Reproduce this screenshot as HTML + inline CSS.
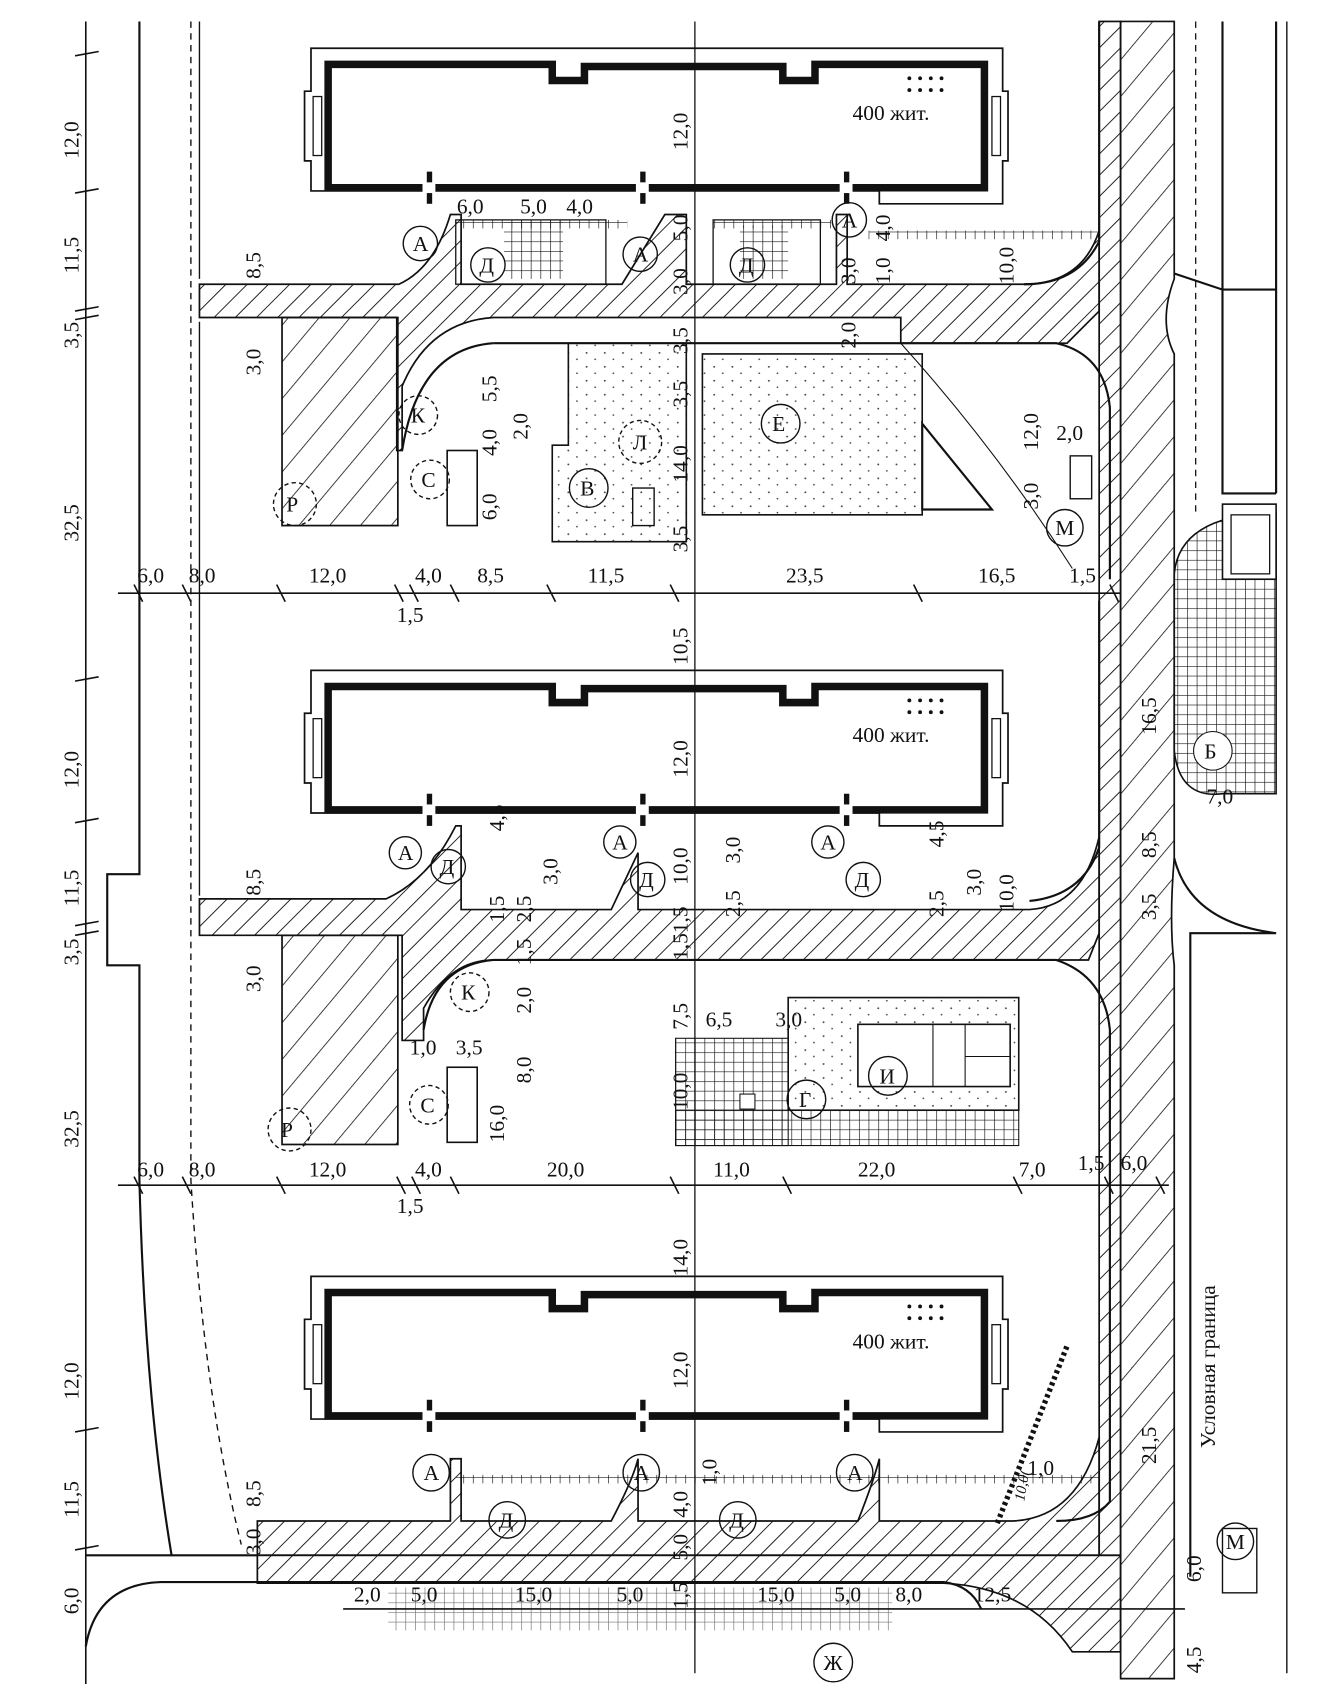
<!DOCTYPE html>
<html><head><meta charset="utf-8"><style>
html,body{margin:0;padding:0;background:#fff}
svg{display:block}
text{font-family:"Liberation Serif","DejaVu Serif",serif;font-size:20px;fill:#111}
</style></head><body>
<svg width="1319" height="1684" viewBox="0 0 1230 1570" preserveAspectRatio="none" xmlns="http://www.w3.org/2000/svg">
<defs>
<pattern id="h" patternUnits="userSpaceOnUse" width="14" height="14" patternTransform="rotate(45)"><line x1="0" y1="0" x2="0" y2="14" stroke="#111" stroke-width="1.7"/></pattern>
<pattern id="hw" patternUnits="userSpaceOnUse" width="22" height="22" patternTransform="rotate(40)"><line x1="0" y1="0" x2="0" y2="22" stroke="#111" stroke-width="1.5"/></pattern>
<pattern id="g" patternUnits="userSpaceOnUse" width="9" height="9"><path d="M0 0H9M0 0V9" stroke="#111" stroke-width="1.2" fill="none"/></pattern>
<pattern id="d" patternUnits="userSpaceOnUse" width="17" height="13"><circle cx="3" cy="4" r="0.9" fill="#444"/><circle cx="11" cy="10" r="0.8" fill="#444"/></pattern>
<g id="bld">
<path d="M290 45H935V85H940V150H935V190H820V178H290V150H284V85H290Z" fill="none" stroke="#111" stroke-width="1.6"/>
<path d="M306 60H515V75H545V62H730V75H760V60H918V175H306Z" fill="none" stroke="#111" stroke-width="7"/>
<rect x="292" y="90" width="8" height="55" fill="none" stroke="#111" stroke-width="1.2"/>
<rect x="925" y="90" width="8" height="55" fill="none" stroke="#111" stroke-width="1.2"/>
<g fill="#111"><rect x="398" y="160" width="5" height="30"/><rect x="597" y="160" width="5" height="30"/><rect x="787" y="160" width="5" height="30"/></g>
<g fill="#fff"><rect x="394" y="170" width="12" height="10"/><rect x="593" y="170" width="12" height="10"/><rect x="783" y="170" width="12" height="10"/></g>
<g fill="#111"><circle cx="848" cy="73" r="1.8"/><circle cx="858" cy="73" r="1.8"/><circle cx="868" cy="73" r="1.8"/><circle cx="878" cy="73" r="1.8"/><circle cx="848" cy="84" r="1.8"/><circle cx="858" cy="84" r="1.8"/><circle cx="868" cy="84" r="1.8"/><circle cx="878" cy="84" r="1.8"/></g>
<text x="795" y="112">400 жит.</text>
</g>
</defs>

<line x1="80" y1="20" x2="80" y2="1570" stroke="#111" stroke-width="1.5"/>
<g stroke="#111" stroke-width="1.5">
<path d="M70 52L92 48M70 180L92 176M70 290L92 286M70 298L92 294M70 635L92 631M70 767L92 763M70 863L92 859M70 872L92 868M70 1335L92 1331M70 1445L92 1441"/>
</g>
<g>
<text transform="translate(73,148) rotate(-90)">12,0</text>
<text transform="translate(73,255) rotate(-90)">11,5</text>
<text transform="translate(73,325) rotate(-90)">3,5</text>
<text transform="translate(73,505) rotate(-90)">32,5</text>
<text transform="translate(73,735) rotate(-90)">12,0</text>
<text transform="translate(73,845) rotate(-90)">11,5</text>
<text transform="translate(73,900) rotate(-90)">3,5</text>
<text transform="translate(73,1070) rotate(-90)">32,5</text>
<text transform="translate(73,1305) rotate(-90)">12,0</text>
<text transform="translate(73,1415) rotate(-90)">11,5</text>
<text transform="translate(73,1505) rotate(-90)">6,0</text>
</g>

<path d="M130 20V815H100V900H130V1100Q135 1300 160 1450" fill="none" stroke="#111" stroke-width="2"/>
<path d="M178 20V1100Q190 1300 225 1440" fill="none" stroke="#111" stroke-width="1.3" stroke-dasharray="6 5"/>
<line x1="186" y1="20" x2="186" y2="260" stroke="#111" stroke-width="1.3"/>
<line x1="186" y1="300" x2="186" y2="835" stroke="#111" stroke-width="1.3"/>
<line x1="80" y1="1450" x2="240" y2="1450" stroke="#111" stroke-width="2"/>
<path d="M80 1535Q90 1477 150 1475H880Q905 1478 915 1500" fill="none" stroke="#111" stroke-width="2"/>

<line x1="648" y1="20" x2="648" y2="1560" stroke="#111" stroke-width="1.2"/>

<use href="#bld"/>
<use href="#bld" transform="translate(0,580)"/>
<use href="#bld" transform="translate(0,1145)"/>

<g fill="url(#h)" stroke="#111" stroke-width="1.6">
<path d="M186 265H372Q405 250 420 200H430V265H580L620 200H640V265H780V200H790V265H960Q1010 262 1025 215V290L995 320H840V296H460Q400 300 375 360V420H370V296H186Z"/>
<path d="M186 838H360Q400 820 425 770H430V848H570L595 795V848H960Q1010 845 1025 780V870L1015 895H460Q420 895 395 940V970H375V872H186Z"/>
<path d="M240 1418H420V1360H430V1418H570Q590 1380 595 1360V1418H800Q815 1380 820 1360V1418H945Q1005 1415 1025 1340V1450H240Z"/>
<path d="M240 1450H1045V1540H1000Q960 1480 880 1476H240Z"/>
<rect x="1025" y="20" width="20" height="1430"/>
</g>
<g fill="url(#hw)" stroke="#111" stroke-width="1.6">
<rect x="263" y="296" width="108" height="194"/>
<rect x="263" y="872" width="108" height="195"/>
<path d="M1045 20H1095V260Q1080 300 1095 330V800Q1090 860 1095 900V1565H1045Z"/>
</g>
<g fill="none" stroke="#111" stroke-width="2">
<path d="M460 320H985Q1030 330 1035 380V540"/>
<path d="M460 320Q390 325 375 420"/>
<path d="M460 895H985Q1030 910 1035 960V1400Q1020 1418 985 1418"/>
<path d="M460 895Q405 900 395 960"/>
<path d="M955 265Q1005 265 1025 225V20"/>
<path d="M960 840Q1010 835 1025 790V560"/>
<path d="M1095 255Q1125 265 1140 270H1190"/>
<path d="M1095 800Q1110 860 1190 870H1110V1470"/>
<path d="M1140 20V460H1190M1190 20V460"/>
</g>
<line x1="1115" y1="20" x2="1115" y2="480" stroke="#111" stroke-width="1.2" stroke-dasharray="6 5"/>
<line x1="1095" y1="900" x2="1095" y2="1540" stroke="#111" stroke-width="1.2" stroke-dasharray="6 5"/>
<line x1="1200" y1="20" x2="1200" y2="1560" stroke="#111" stroke-width="1.3"/>
<text transform="translate(1133,1350) rotate(-90)">Условная граница</text>

<path d="M1095 535Q1100 480 1190 478V740H1140Q1100 745 1095 700Z" fill="url(#g)" stroke="#111" stroke-width="1.5"/>
<rect x="1140" y="470" width="50" height="70" fill="#fff" stroke="#111" stroke-width="1.5"/>
<rect x="1148" y="480" width="36" height="55" fill="none" stroke="#111" stroke-width="1.2"/>
<circle cx="1131" cy="700" r="18" fill="#fff" stroke="#111"/><text x="1123" y="707">Б</text>

<path d="M530 320H640V505H515V415H530Z" fill="url(#d)" stroke="#111" stroke-width="1.5"/>
<path d="M655 330H860V480H655Z" fill="url(#d)" stroke="#111" stroke-width="1.5"/>
<path d="M860 395L925 475H860Z" fill="#fff" stroke="#111" stroke-width="2"/>
<path d="M840 320Q930 420 1000 530" fill="none" stroke="#111"/>
<rect x="417" y="420" width="28" height="70" fill="none" stroke="#111" stroke-width="1.5"/>
<rect x="417" y="995" width="28" height="70" fill="none" stroke="#111" stroke-width="1.5"/>
<rect x="590" y="455" width="20" height="35" fill="none" stroke="#111" stroke-width="1.3"/>
<rect x="425" y="205" width="140" height="60" fill="none" stroke="#111" stroke-width="1.2"/>
<rect x="470" y="205" width="55" height="55" fill="url(#g)"/>
<rect x="665" y="205" width="100" height="60" fill="none" stroke="#111" stroke-width="1.2"/>
<rect x="690" y="210" width="45" height="50" fill="url(#g)"/>
<rect x="425" y="205" width="160" height="8" fill="url(#g)"/>
<rect x="665" y="205" width="110" height="8" fill="url(#g)"/>
<rect x="810" y="215" width="215" height="8" fill="url(#g)"/>
<rect x="630" y="968" width="105" height="100" fill="url(#g)" stroke="#111"/>
<rect x="630" y="1035" width="320" height="33" fill="url(#g)" stroke="#111"/>
<path d="M735 930H950V1035H735Z" fill="url(#d)" stroke="#111" stroke-width="1.5"/>
<rect x="800" y="955" width="142" height="58" fill="#fff" stroke="#111" stroke-width="1.5"/>
<path d="M870 955V1013M900 955V1013M900 985H942" stroke="#111" fill="none"/>
<rect x="690" y="1020" width="14" height="14" fill="#fff" stroke="#111"/>
<rect x="362" y="1480" width="470" height="40" fill="url(#g)" opacity="0.6"/>
<rect x="425" y="1375" width="600" height="8" fill="url(#g)"/>
<path d="M930 1420L995 1255" stroke="#111" stroke-width="5" stroke-dasharray="3 3"/>

<rect x="998" y="425" width="20" height="40" fill="none" stroke="#111" stroke-width="1.3"/>
<rect x="1140" y="1425" width="32" height="60" fill="none" stroke="#111" stroke-width="1.3"/>

<g stroke="#111" stroke-width="1.5">
<line x1="110" y1="553" x2="1045" y2="553"/>
<line x1="110" y1="1105" x2="1090" y2="1105"/>
<line x1="320" y1="1500" x2="1105" y2="1500" />
<path d="M125 545L133 561M170 545L178 561M258 545L266 561M368 545L376 561M382 545L390 561M420 545L428 561M510 545L518 561M625 545L633 561M852 545L860 561M1035 545L1043 561M125 1097L133 1113M170 1097L178 1113M258 1097L266 1113M370 1097L378 1113M384 1097L392 1113M420 1097L428 1113M625 1097L633 1113M730 1097L738 1113M945 1097L953 1113M1030 1097L1038 1113M1078 1097L1086 1113"/>
</g>
<text x="128" y="543">6,0</text><text x="176" y="543">8,0</text><text x="288" y="543">12,0</text><text x="387" y="543">4,0</text><text x="445" y="543">8,5</text><text x="548" y="543">11,5</text><text x="733" y="543">23,5</text><text x="912" y="543">16,5</text><text x="997" y="543">1,5</text><text x="370" y="580">1,5</text>
<text x="128" y="1097">6,0</text><text x="176" y="1097">8,0</text><text x="288" y="1097">12,0</text><text x="387" y="1097">4,0</text><text x="510" y="1097">20,0</text><text x="665" y="1097">11,0</text><text x="800" y="1097">22,0</text><text x="950" y="1097">7,0</text><text x="1005" y="1091">1,5</text><text x="1045" y="1091">6,0</text><text x="370" y="1131">1,5</text>
<text x="330" y="1493">2,0</text><text x="383" y="1493">5,0</text><text x="480" y="1493">15,0</text><text x="575" y="1493">5,0</text><text x="706" y="1493">15,0</text><text x="778" y="1493">5,0</text><text x="835" y="1493">8,0</text><text x="908" y="1493">12,5</text>

<g>
<text transform="translate(243,260) rotate(-90)">8,5</text>
<text transform="translate(243,350) rotate(-90)">3,0</text>
<text transform="translate(243,835) rotate(-90)">8,5</text>
<text transform="translate(243,925) rotate(-90)">3,0</text>
<text transform="translate(243,1405) rotate(-90)">8,5</text>
<text transform="translate(243,1450) rotate(-90)">3,0</text>
<text transform="translate(641,140) rotate(-90)">12,0</text>
<text transform="translate(641,725) rotate(-90)">12,0</text>
<text transform="translate(641,1295) rotate(-90)">12,0</text>
<text transform="translate(641,1190) rotate(-90)">14,0</text>
<text transform="translate(641,620) rotate(-90)">10,5</text>
<text transform="translate(641,225) rotate(-90)">5,0</text>
<text transform="translate(641,275) rotate(-90)">3,0</text>
<text transform="translate(641,330) rotate(-90)">3,5</text>
<text transform="translate(641,380) rotate(-90)">3,5</text>
<text transform="translate(641,450) rotate(-90)">14,0</text>
<text transform="translate(641,515) rotate(-90)">3,5</text>
<text transform="translate(641,825) rotate(-90)">10,0</text>
<text transform="translate(641,870) rotate(-90)">1,5</text>
<text transform="translate(641,895) rotate(-90)">1,5</text>
<text transform="translate(641,960) rotate(-90)">7,5</text>
<text transform="translate(641,1035) rotate(-90)">10,0</text>
<text transform="translate(641,1415) rotate(-90)">4,0</text>
<text transform="translate(641,1455) rotate(-90)">5,0</text>
<text transform="translate(641,1500) rotate(-90)">1,5</text>
<text transform="translate(668,1385) rotate(-90)">1,0</text>
<text transform="translate(463,375) rotate(-90)">5,5</text>
<text transform="translate(492,410) rotate(-90)">2,0</text>
<text transform="translate(463,425) rotate(-90)">4,0</text>
<text transform="translate(463,485) rotate(-90)">6,0</text>
<text transform="translate(495,945) rotate(-90)">2,0</text>
<text transform="translate(495,1010) rotate(-90)">8,0</text>
<text transform="translate(470,1065) rotate(-90)">16,0</text>
<text transform="translate(470,860) rotate(-90)">1,5</text>
<text transform="translate(495,860) rotate(-90)">2,5</text>
<text transform="translate(495,900) rotate(-90)">1,5</text>
<text transform="translate(470,775) rotate(-90)">4,5</text>
<text transform="translate(520,825) rotate(-90)">3,0</text>
<text transform="translate(690,805) rotate(-90)">3,0</text>
<text transform="translate(690,855) rotate(-90)">2,5</text>
<text transform="translate(880,790) rotate(-90)">4,5</text>
<text transform="translate(880,855) rotate(-90)">2,5</text>
<text transform="translate(915,835) rotate(-90)">3,0</text>
<text transform="translate(945,850) rotate(-90)">10,0</text>
<text transform="translate(830,225) rotate(-90)">4,0</text>
<text transform="translate(798,265) rotate(-90)">3,0</text>
<text transform="translate(830,265) rotate(-90)">1,0</text>
<text transform="translate(798,325) rotate(-90)">2,0</text>
<text transform="translate(945,265) rotate(-90)">10,0</text>
<text transform="translate(968,420) rotate(-90)">12,0</text>
<text transform="translate(968,475) rotate(-90)">3,0</text>
<text transform="translate(1078,685) rotate(-90)">16,5</text>
<text transform="translate(1078,800) rotate(-90)">8,5</text>
<text transform="translate(1078,858) rotate(-90)">3,5</text>
<text transform="translate(1078,1365) rotate(-90)">21,5</text>
<text transform="translate(1120,1475) rotate(-90)">6,0</text>
<text transform="translate(1120,1560) rotate(-90)">4,5</text>
<text transform="translate(955,1400) rotate(-80)" style="font-size:14px;font-style:italic">10,0(</text>
</g>
<text x="426" y="199">6,0</text><text x="485" y="199">5,0</text><text x="528" y="199">4,0</text>
<text x="985" y="410">2,0</text><text x="658" y="957">6,5</text><text x="723" y="957">3,0</text><text x="382" y="983">1,0</text><text x="425" y="983">3,5</text>
<text x="1125" y="749">7,0</text><text x="958" y="1375">1,0</text>

<g fill="none" stroke="#111" stroke-width="1.3">
<circle cx="392" cy="227" r="16"/><circle cx="597" cy="237" r="16"/><circle cx="792" cy="205" r="16"/>
<circle cx="455" cy="247" r="16"/><circle cx="697" cy="247" r="16"/>
<circle cx="390" cy="387" r="18" stroke-dasharray="4 3"/><circle cx="401" cy="447" r="18" stroke-dasharray="4 3"/><circle cx="275" cy="470" r="20" stroke-dasharray="4 3"/>
<circle cx="597" cy="412" r="20" stroke-dasharray="4 3"/><circle cx="549" cy="455" r="18"/><circle cx="728" cy="395" r="18"/><circle cx="993" cy="492" r="17"/>
<circle cx="378" cy="795" r="15"/><circle cx="418" cy="808" r="16"/><circle cx="578" cy="785" r="15"/><circle cx="604" cy="820" r="16"/><circle cx="772" cy="785" r="15"/><circle cx="805" cy="820" r="16"/>
<circle cx="438" cy="925" r="18" stroke-dasharray="4 3"/><circle cx="400" cy="1030" r="18" stroke-dasharray="4 3"/><circle cx="270" cy="1053" r="20" stroke-dasharray="4 3"/>
<circle cx="752" cy="1025" r="18"/><circle cx="828" cy="1003" r="18"/>
<circle cx="402" cy="1373" r="17"/><circle cx="598" cy="1373" r="17"/><circle cx="797" cy="1373" r="17"/><circle cx="473" cy="1417" r="17"/><circle cx="688" cy="1417" r="17"/>
<circle cx="777" cy="1550" r="18"/><circle cx="1152" cy="1437" r="17"/>
</g>
<text x="385" y="234">А</text><text x="590" y="244">А</text><text x="785" y="212">А</text>
<text x="447" y="254">Д</text><text x="689" y="254">Д</text>
<text x="383" y="394">К</text><text x="393" y="454">С</text><text x="267" y="477">Р</text>
<text x="590" y="419">Л</text><text x="541" y="462">В</text><text x="720" y="402">Е</text><text x="984" y="499">М</text>
<text x="371" y="802">А</text><text x="410" y="815">Д</text><text x="571" y="792">А</text><text x="596" y="827">Д</text><text x="765" y="792">А</text><text x="797" y="827">Д</text>
<text x="430" y="932">К</text><text x="392" y="1037">С</text><text x="262" y="1060">Р</text>
<text x="745" y="1032">Г</text><text x="820" y="1010">И</text>
<text x="395" y="1380">А</text><text x="591" y="1380">А</text><text x="790" y="1380">А</text><text x="465" y="1424">Д</text><text x="680" y="1424">Д</text>
<text x="768" y="1557">Ж</text><text x="1143" y="1444">М</text>
</svg>
</body></html>
